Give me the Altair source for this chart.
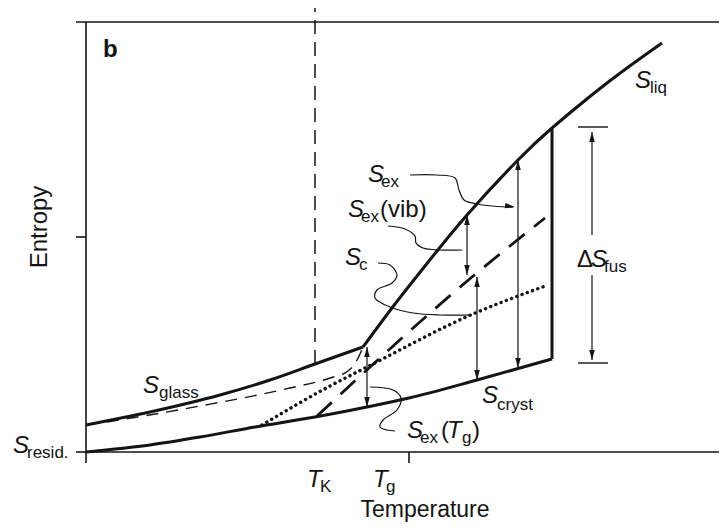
import altair as alt
import pandas as pd

INK = "#141414"
FONT = "Liberation Sans"

# ---- schematic values (arbitrary units: T = temperature, S = entropy) ----
cryst_T = [0, 64, 114, 169, 229, 281, 323, 391, 466]
cryst_S = [0, 7, 15, 25, 35, 45, 54, 72, 93]
glass_T = [0, 64, 134, 184, 229, 277]
glass_S = [27, 40, 57, 72, 88, 105]
liq_T = [277, 309, 339, 381, 432, 466, 507, 541, 576]
liq_S = [105, 148, 186, 237, 292, 324, 358, 384, 409]
vib_T = [231, 386, 459]            # long dashed
vib_S = [36, 175, 234]
conf_T = [176, 244, 281, 387, 462]  # dotted
conf_S = [27, 66, 85, 138, 167]
slow_T = [21, 114, 204, 244, 262, 270, 277]  # thin dashed
slow_S = [30, 46, 64, 74, 81, 90, 105]

T_K, T_g, T_m = 229, 323, 466
T_MAX, S_TOP, S_VIEW = 633, 430, 444

# frame segments (T1, S1, T2, S2)
frame = [(-10, S_TOP, T_MAX, S_TOP), (0, -11, 0, S_TOP), (0, 0, T_MAX, 0),
         (-10, 215, 0, 215), (-10, 0, 0, 0), (T_g, 0, T_g, -11)]
melt = [(T_m, 93, T_m, 324)]
tk_line = [(T_K, 88, T_K, S_VIEW)]
shafts = [(281, 45, 281, 105), (381, 177, 381, 237), (391, 72, 391, 175),
          (432, 84, 432, 292), (506, 217, 506, 320), (506, 92, 506, 177)]
bars = [(492, 325, 522, 325), (492, 89, 522, 89)]
heads_up_T = [281, 381, 391, 432, 506]
heads_up_S = [105, 237, 175, 292, 320]
heads_dn_T = [281, 381, 391, 432, 506]
heads_dn_S = [45, 177, 72, 84, 92]

leaders = {
    "ex": [(324, 277), (351, 277), (369, 274), (373, 262), (378, 252), (391, 248), (421, 245), (427, 245)],
    "vib": [(302, 226), (319, 223), (329, 216), (330, 209), (337, 204), (354, 202), (376, 202)],
    "c": [(292, 189), (304, 187), (311, 177), (306, 169), (291, 162), (289, 154), (304, 145),
          (327, 139), (354, 137), (386, 137)],
    "tg": [(284, 65), (307, 62), (315, 54), (311, 42), (297, 32), (294, 25), (301, 22), (309, 21)],
}

italic_big = [("S", 549, 364), ("S", 282, 270), ("S", 262, 235), ("S", 259, 187),
              ("S", 321, 14), ("T", 361, 14), ("S", 396, 49), ("S", 57, 59),
              ("S", -73, -1), ("S", 505, 185), ("T", 221, -35), ("T", 287, -35)]
subs = [("liq", 564, 359), ("ex", 295, 265), ("ex", 275, 230), ("c", 273, 182),
        ("ex", 334, 9), ("g", 376, 9), ("cryst", 411, 42), ("glass", 73, 54),
        ("resid.", -59, -6), ("fus", 518, 180), ("K", 234, -40), ("g", 300, -40)]
upright_big = [("(vib)", 294, 235), ("(", 355, 14), (")", 386, 14), ("Δ", 491, 185)]

x = alt.X("T:Q", scale=alt.Scale(domain=[0, T_MAX], nice=False, zero=False), axis=None)
y = alt.Y("S:Q", scale=alt.Scale(domain=[0, S_VIEW], nice=False, zero=False), axis=None)


def curve_df(Ts, Ss):
    return pd.DataFrame({"T": Ts, "S": Ss})


def seg_df(segs):
    return pd.DataFrame(segs, columns=["T", "S", "T2", "S2"])


def rules(segs, **kw):
    return alt.Chart(seg_df(segs)).mark_rule(color=INK, **kw).encode(
        x=x, y=y, x2="T2:Q", y2="S2:Q")


def line(Ts, Ss, interp="monotone", **kw):
    return alt.Chart(curve_df(Ts, Ss)).mark_line(color=INK, interpolate=interp, **kw).encode(
        x=x, y=y, order="T:Q")


solid = [line(cryst_T, cryst_S, strokeWidth=3), line(glass_T, glass_S, strokeWidth=3),
         line(liq_T, liq_S, interp="natural", strokeWidth=3)]
vib = line(vib_T, vib_S, strokeWidth=2.8, strokeDash=[20, 12])
conf = line(conf_T, conf_S, strokeWidth=3.4, strokeDash=[0.1, 5.5], strokeCap="round")
slow = line(slow_T, slow_S, strokeWidth=1.4, strokeDash=[12, 8])

lead_rows = []
for k, pts in leaders.items():
    for i, (t, s) in enumerate(pts):
        lead_rows.append({"leader": k, "i": i, "T": t, "S": s})
lead = alt.Chart(pd.DataFrame(lead_rows)).mark_line(
    color=INK, strokeWidth=1.2, interpolate="catmull-rom").encode(
    x=x, y=y, detail="leader:N", order="i:Q")

UP = "M0,0L0.55,2L-0.55,2Z"
DN = "M0,0L0.55,-2L-0.55,-2Z"
RT = "M0,0L-2,-0.55L-2,0.55Z"
heads_up = alt.Chart(curve_df(heads_up_T, heads_up_S)).mark_point(
    shape=UP, size=100, filled=True, color=INK, opacity=1).encode(x=x, y=y)
heads_dn = alt.Chart(curve_df(heads_dn_T, heads_dn_S)).mark_point(
    shape=DN, size=100, filled=True, color=INK, opacity=1).encode(x=x, y=y)
head_rt = alt.Chart(curve_df([429], [245])).mark_point(
    shape=RT, size=100, filled=True, color=INK, opacity=1, angle=8).encode(x=x, y=y)


def texts(rows, **kw):
    df = pd.DataFrame(rows, columns=["txt", "T", "S"])
    return alt.Chart(df).mark_text(color=INK, font=FONT, align="left",
                                   baseline="alphabetic", **kw).encode(x=x, y=y, text="txt:N")


t_it = texts(italic_big, fontSize=24, fontStyle="italic")
t_sub = texts(subs, fontSize=17)
t_up = texts(upright_big, fontSize=24)
t_b = texts([("b", 17, 395)], fontSize=24, fontWeight="bold")
t_temp = alt.Chart(pd.DataFrame({"txt": ["Temperature"], "T": [339], "S": [-65]})).mark_text(
    color=INK, font=FONT, fontSize=23, align="center", baseline="alphabetic").encode(
    x=x, y=y, text="txt:N")
t_ent = alt.Chart(pd.DataFrame({"txt": ["Entropy"], "T": [-39], "S": [225]})).mark_text(
    color=INK, font=FONT, fontSize=24, align="center", baseline="alphabetic", angle=270).encode(
    x=x, y=y, text="txt:N")

chart = alt.layer(
    rules(frame, strokeWidth=1.6),
    rules(tk_line, strokeWidth=1.5, strokeDash=[14, 8]),
    slow, conf, vib,
    *solid,
    rules(melt, strokeWidth=3),
    rules(shafts, strokeWidth=1.2),
    rules(bars, strokeWidth=1.4),
    heads_up, heads_dn, head_rt, lead,
    t_it, t_sub, t_up, t_b, t_temp, t_ent,
).properties(
    width=T_MAX, height=S_VIEW,
    padding={"left": 78, "top": 0, "right": 0, "bottom": 76},
    autosize=alt.AutoSizeParams(type="none"),
).configure_view(stroke=None)

chart.save("out.html", embed_options={"renderer": "svg", "actions": False})
